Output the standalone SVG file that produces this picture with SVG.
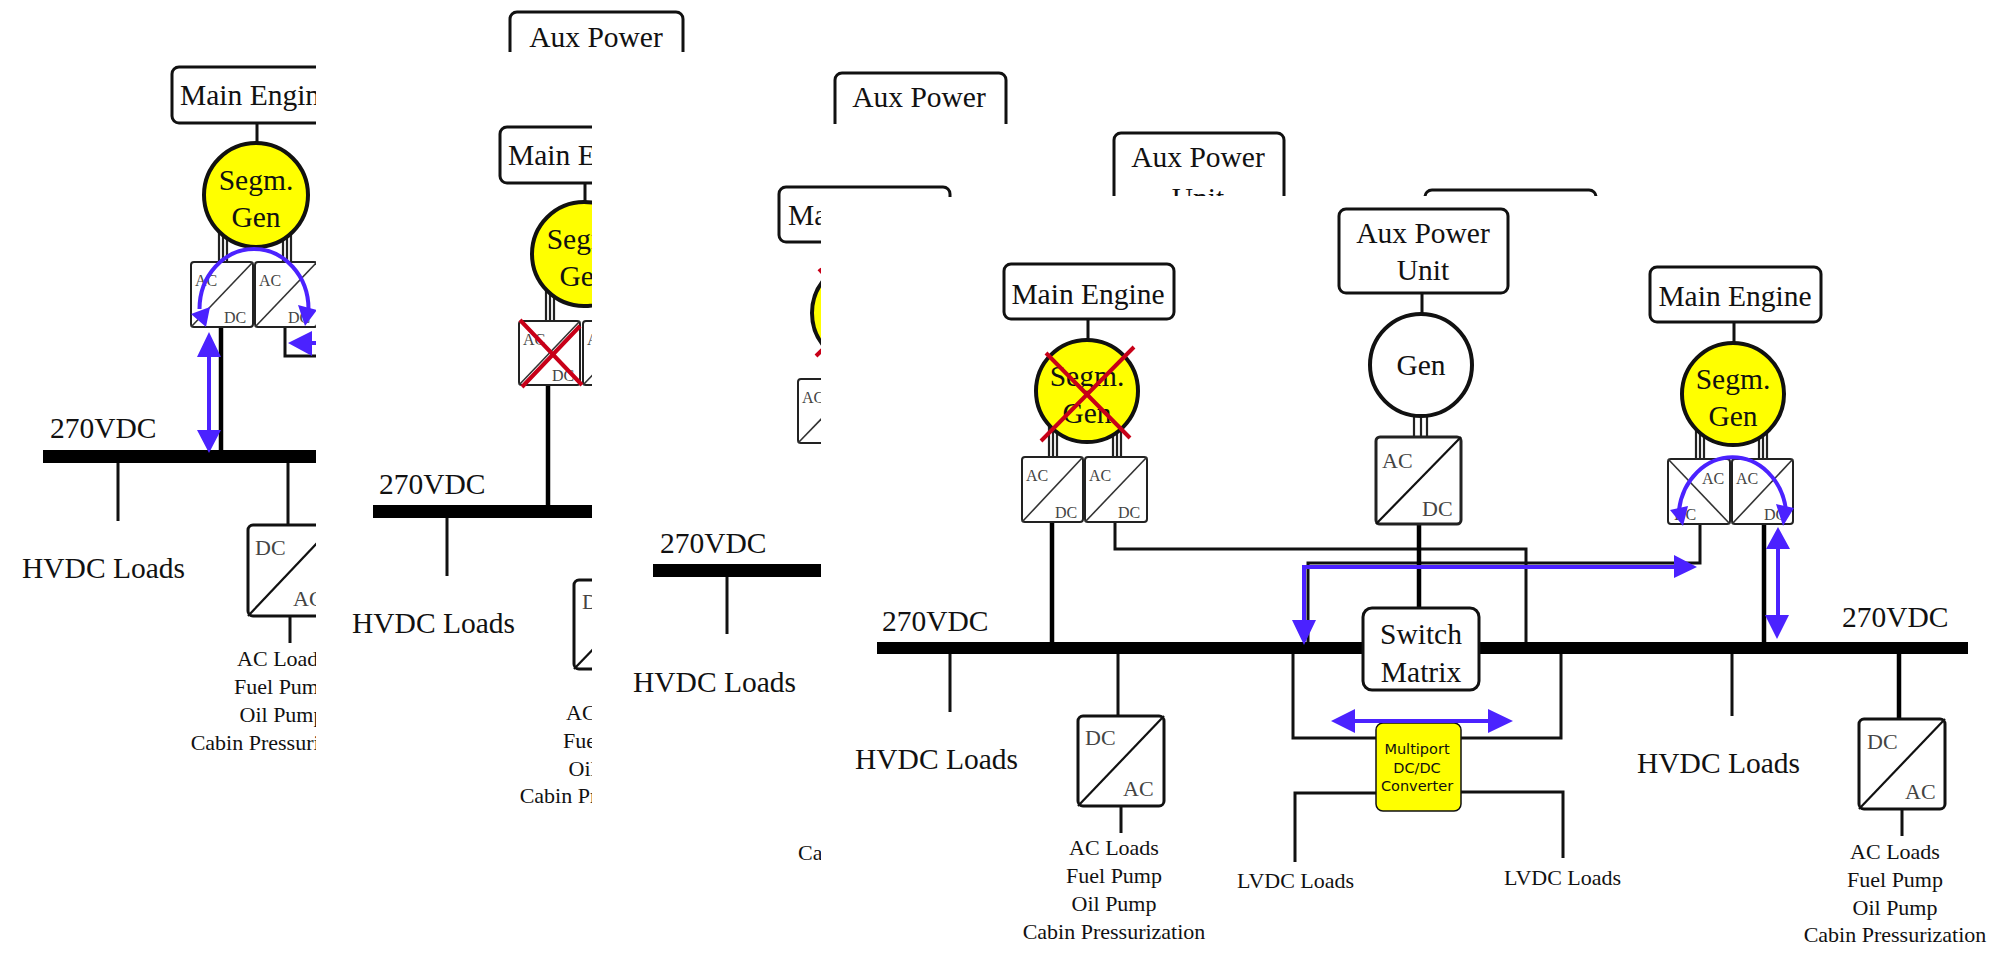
<svg xmlns="http://www.w3.org/2000/svg" width="1996" height="954" viewBox="0 0 1996 954">
<style>
text{font-family:"Liberation Serif","Times New Roman",serif;fill:#111}
.t{font-size:29.5px}.m{text-anchor:middle}.s{font-size:22px}.c{font-size:16px;fill:#444}.c2{font-size:22px;fill:#444}
.mp{font-family:"DejaVu Sans",sans-serif;font-size:14.5px;text-anchor:middle}
.box{fill:#fff;stroke:#111;stroke-width:3}.conv{fill:#fff;stroke:#222;stroke-width:2}
.w{fill:none;stroke:#111;stroke-width:3}.d{fill:none;stroke:#111;stroke-width:2.2}.k{fill:none;stroke:#000;stroke-width:4.5}.thin{fill:none;stroke:#333;stroke-width:1.6}.tw{fill:none;stroke:#222;stroke-width:2.2}
.gen{fill:#ff0;stroke:#111;stroke-width:4}.gw{fill:#fff;stroke:#111;stroke-width:4}
.bar{fill:#000}.x{fill:none;stroke:#c80018;stroke-width:4}
.b{fill:none;stroke:#4b22ff;stroke-width:4}.bh{fill:#4b22ff}
</style>
<defs>
<clipPath id="c1"><rect x="0" y="0" width="316" height="954"/></clipPath>
<clipPath id="c2a"><rect x="316" y="0" width="400" height="52"/></clipPath>
<clipPath id="c2"><rect x="316" y="52" width="276" height="902"/></clipPath>
<clipPath id="c3a"><rect x="820" y="0" width="300" height="124"/></clipPath>
<clipPath id="c3"><rect x="592" y="125" width="229" height="829"/><rect x="592" y="125" width="400" height="72"/></clipPath>
<clipPath id="c4"><rect x="1000" y="100" width="600" height="96"/></clipPath>
</defs>
<g id="panel-1" clip-path="url(#c1)">
<path class="w" d="M257 123V144M118 463V521M288 463V525M290 616V643"/>
<path class="k" d="M221 327V450"/>
<path class="tw" d="M219 225V262M223 225V262M227 225V262M283 225V262M287 225V262M291 225V262"/>
<path class="w" d="M285 327V356H330"/>
<rect class="box" x="172" y="67" width="170" height="56" rx="7"/>
<text class="t" x="180" y="105">Main Engine</text>
<circle class="gen" cx="256" cy="195" r="52"/>
<text class="t m" x="256" y="190">Segm.</text><text class="t m" x="256" y="227">Gen</text>
<rect class="conv" x="191" y="262" width="62" height="65" rx="3"/><path class="thin" d="M191 327L253 262"/>
<text class="c" x="195" y="286">AC</text><text class="c" x="224" y="323">DC</text>
<rect class="conv" x="255" y="262" width="62" height="65" rx="3"/><path class="thin" d="M255 327L317 262"/>
<text class="c" x="259" y="286">AC</text><text class="c" x="288" y="323">DC</text>
<rect class="bar" x="43" y="450" width="280" height="13"/>
<text class="t" x="50" y="438">270VDC</text>
<text class="t" x="22" y="578">HVDC Loads</text>
<rect class="box" x="248" y="525" width="86" height="91" rx="5"/><path class="d" d="M248 616L334 525"/>
<text class="c2" x="255" y="555">DC</text><text class="c2" x="293" y="606">AC</text>
<text class="s m" x="282" y="666">AC Loads</text><text class="s m" x="282" y="694">Fuel Pump</text><text class="s m" x="282" y="722">Oil Pump</text><text class="s m" x="282" y="750">Cabin Pressurization</text>
<path class="b" d="M199.500 309A54.500 60 0 0 1 308.500 309"/>
<path class="bh" d="M206 327L191 314L210 307ZM305 326L298 305L317 310Z"/>
<path class="b" d="M209 350V435M311 343H320"/>
<path class="bh" d="M209 332L221 357H197ZM209 453L197 430H221ZM288 343L312 331V356Z"/>
</g>
<g id="panel-2-top" clip-path="url(#c2a)">
<rect class="box" x="510" y="12" width="173" height="70" rx="7"/>
<text class="t m" x="596" y="47">Aux Power</text>
</g>
<g id="panel-2" clip-path="url(#c2)">
<path class="w" d="M585 183V203M447 518V576"/>
<path class="k" d="M548 385V505"/>
<path class="tw" d="M546 285V321M550 285V321M554 285V321"/>
<rect class="box" x="500" y="127" width="170" height="56" rx="7"/>
<text class="t" x="508" y="165">Main Engine</text>
<circle class="gen" cx="584" cy="254" r="52"/>
<text class="t m" x="584" y="249">Segm.</text><text class="t m" x="584" y="286">Gen</text>
<rect class="conv" x="519" y="321" width="61" height="64" rx="3"/><path class="thin" d="M519 385L580 321"/>
<text class="c" x="523" y="345">AC</text><text class="c" x="552" y="381">DC</text>
<rect class="conv" x="583" y="321" width="62" height="64" rx="3"/><path class="thin" d="M583 385L645 321"/>
<text class="c" x="587" y="345">AC</text>
<path class="x" d="M520 320L582 385M580 326L522 387"/>
<rect class="bar" x="373" y="505" width="260" height="13"/>
<text class="t" x="379" y="494">270VDC</text>
<text class="t" x="352" y="633">HVDC Loads</text>
<rect class="box" x="574" y="580" width="86" height="89" rx="5"/><path class="d" d="M574 669L660 580"/>
<text class="c2" x="582" y="609">DC</text>
<text class="s m" x="611" y="720">AC Loads</text><text class="s m" x="611" y="748">Fuel Pump</text><text class="s m" x="611" y="776">Oil Pump</text><text class="s m" x="611" y="803">Cabin Pressurization</text>
</g>
<g id="panel-3-top" clip-path="url(#c3a)">
<rect class="box" x="835" y="73" width="171" height="84" rx="7"/>
<text class="t m" x="919" y="107">Aux Power</text><text class="t m" x="919" y="143">Unit</text>
</g>
<g id="panel-3" clip-path="url(#c3)">
<rect class="box" x="779" y="187" width="171" height="55" rx="7"/>
<text class="t" x="788" y="225">Main Engine</text>
<circle class="gen" cx="864" cy="313" r="52"/>
<path class="x" d="M819 269L900 355M912 262L816 356"/>
<rect class="conv" x="798" y="379" width="62" height="64" rx="3"/><path class="thin" d="M798 443L860 379"/>
<text class="c" x="802" y="403">AC</text>
<rect class="bar" x="653" y="564" width="200" height="13"/>
<path class="w" d="M727 577V634"/>
<text class="t" x="660" y="553">270VDC</text>
<text class="t" x="633" y="692">HVDC Loads</text>
<text class="s" x="798" y="860">Cabin Pressurization</text>
</g>
<g id="panel-4-top" clip-path="url(#c4)">
<rect class="box" x="1114" y="133" width="170" height="84" rx="7"/>
<text class="t m" x="1198" y="167">Aux Power</text><text class="t m" x="1198" y="208">Unit</text>
<rect class="box" x="1425" y="190" width="171" height="84" rx="7"/>
</g>
<g id="connectors">
<path class="w" d="M1088 319V339M1422 293V313M1734 322V343M950 654V712M1118 654V716M1121 806V833M1115 522V549H1526V642M1700 524V563H1308V642M1293 654V738H1376M1561 654V738H1461M1295 862V793H1376M1563 858V792H1461M1732 654V716M1902 809V836"/>
<path class="k" d="M1052 522V642M1419 524V608M1764 524V642M1899 654V719"/>
<path class="tw" d="M1049 420V457M1053 420V457M1057 420V457M1113 420V457M1117 420V457M1121 420V457M1414 410V437M1421 410V437M1427 410V437M1696 423V459M1700 423V459M1704 423V459M1759 423V459M1763 423V459M1767 423V459"/>
</g>
<g id="bus"><rect class="bar" x="877" y="642" width="1091" height="12"/></g>
<g id="engine-left"><rect class="box" x="1004" y="264" width="170" height="55" rx="7"/><text class="t m" x="1088" y="304">Main Engine</text></g>
<g id="gen-left"><circle class="gen" cx="1087" cy="391" r="51"/><text class="t m" x="1087" y="386">Segm.</text><text class="t m" x="1087" y="423">Gen</text></g>
<g id="conv-l1"><rect class="conv" x="1022" y="457" width="61" height="65" rx="3"/><path class="thin" d="M1022 522L1083 457"/><text class="c" x="1026" y="481">AC</text><text class="c" x="1055" y="518">DC</text></g>
<g id="conv-l2"><rect class="conv" x="1085" y="457" width="62" height="65" rx="3"/><path class="thin" d="M1085 522L1147 457"/><text class="c" x="1089" y="481">AC</text><text class="c" x="1118" y="518">DC</text></g>
<g id="x-left"><path class="x" d="M1046 353L1130 438M1134 347L1041 441"/></g>
<g id="aux"><rect class="box" x="1339" y="209" width="169" height="84" rx="7"/><text class="t m" x="1423" y="243">Aux Power</text><text class="t m" x="1423" y="280">Unit</text></g>
<g id="gen-aux"><circle class="gw" cx="1421" cy="365" r="51"/><text class="t m" x="1421" y="375">Gen</text></g>
<g id="conv-aux"><rect class="conv" x="1376" y="437" width="85" height="87" rx="4" style="stroke-width:3"/><path class="d" d="M1376 524L1461 437"/><text class="c2" x="1382" y="468">AC</text><text class="c2" x="1422" y="516">DC</text></g>
<g id="engine-right"><rect class="box" x="1650" y="267" width="171" height="55" rx="7"/><text class="t m" x="1735" y="306">Main Engine</text></g>
<g id="gen-right"><circle class="gen" cx="1733" cy="394" r="51"/><text class="t m" x="1733" y="389">Segm.</text><text class="t m" x="1733" y="426">Gen</text></g>
<g id="conv-r1"><rect class="conv" x="1668" y="459" width="62" height="65" rx="3"/><path class="thin" d="M1668 459L1730 524"/><text class="c" x="1702" y="484">AC</text><text class="c" x="1674" y="520">DC</text></g>
<g id="conv-r2"><rect class="conv" x="1732" y="459" width="61" height="65" rx="3"/><path class="thin" d="M1732 524L1793 459"/><text class="c" x="1736" y="484">AC</text><text class="c" x="1764" y="520">DC</text></g>
<g id="switch"><rect class="box" x="1363" y="608" width="116" height="82" rx="9"/><text class="t m" x="1421" y="644">Switch</text><text class="t m" x="1421" y="682">Matrix</text></g>
<g id="multiport"><rect x="1376" y="723" width="85" height="88" rx="7" fill="#ff0" stroke="#111" stroke-width="1.5"/><text class="mp" x="1417" y="754">Multiport</text><text class="mp" x="1417" y="773">DC/DC</text><text class="mp" x="1417" y="791">Converter</text></g>
<g id="dc-ac-left"><rect class="box" x="1078" y="716" width="86" height="90" rx="5"/><path class="d" d="M1078 806L1164 716"/><text class="c2" x="1085" y="745">DC</text><text class="c2" x="1123" y="796">AC</text></g>
<g id="dc-ac-right"><rect class="box" x="1859" y="719" width="86" height="90" rx="5"/><path class="d" d="M1859 809L1945 719"/><text class="c2" x="1867" y="749">DC</text><text class="c2" x="1905" y="799">AC</text></g>
<g id="labels">
<text class="t" x="882" y="631">270VDC</text><text class="t" x="1842" y="627">270VDC</text>
<text class="t" x="855" y="769">HVDC Loads</text><text class="t" x="1637" y="773">HVDC Loads</text>
<text class="s m" x="1114" y="855">AC Loads</text><text class="s m" x="1114" y="883">Fuel Pump</text><text class="s m" x="1114" y="911">Oil Pump</text><text class="s m" x="1114" y="939">Cabin Pressurization</text>
<text class="s m" x="1895" y="859">AC Loads</text><text class="s m" x="1895" y="887">Fuel Pump</text><text class="s m" x="1895" y="915">Oil Pump</text><text class="s m" x="1895" y="942">Cabin Pressurization</text>
<text class="s" x="1237" y="888">LVDC Loads</text><text class="s" x="1504" y="885">LVDC Loads</text>
</g>
<g id="flows">
<path class="b" d="M1679 510A54 61 0 0 1 1786 510"/>
<path class="bh" d="M1683 526L1670 510L1688 506ZM1783 526L1776 504L1794 508Z"/>
<path class="b" d="M1676 567H1304V625M1778 545V620M1350 721H1494"/>
<path class="bh" d="M1697 567L1674 555V578ZM1304 645L1292 620H1316ZM1778 527L1790 549H1766ZM1777 639L1765 615H1789ZM1331 721L1355 709V733ZM1513 721L1488 709V733Z"/>
</g>
</svg>
